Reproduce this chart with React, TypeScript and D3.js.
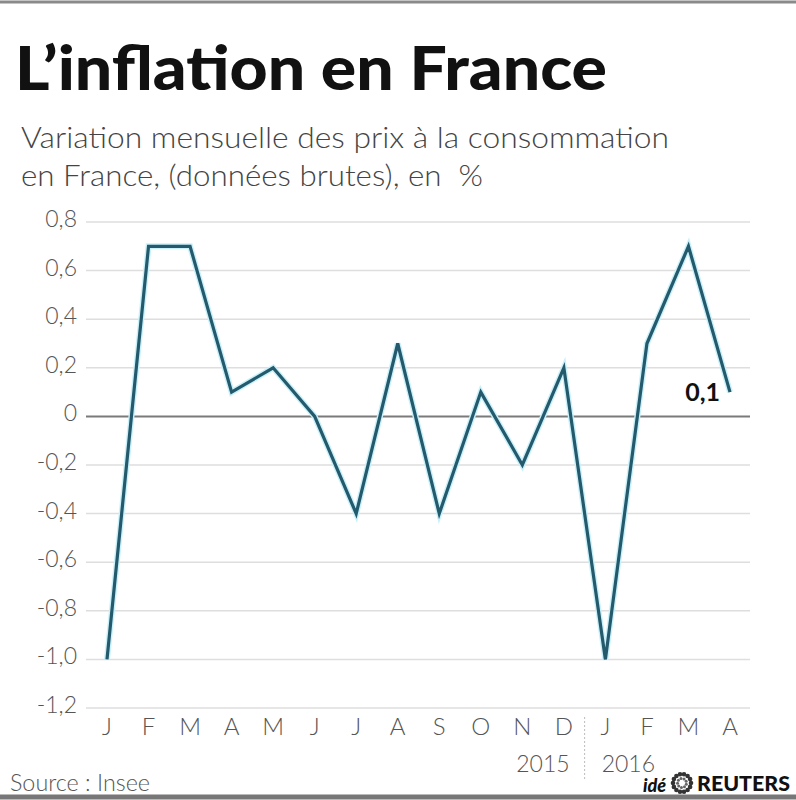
import { useEffect, useRef } from "react"
import * as d3 from "d3"

const months = ["J", "F", "M", "A", "M", "J", "J", "A", "S", "O", "N", "D", "J", "F", "M", "A"]
const values = [-1.0, 0.7, 0.7, 0.1, 0.2, 0.0, -0.4, 0.3, -0.4, 0.1, -0.2, 0.2, -1.0, 0.3, 0.7, 0.1]
const yTicks = [0.8, 0.6, 0.4, 0.2, 0, -0.2, -0.4, -0.6, -0.8, -1.0, -1.2]
const years = ["2015", "2016"]

const FONT = "Lato, 'Open Sans', sans-serif"

export default function App() {
  const svgRef = useRef(null)

  useEffect(() => {
    document.body.style.margin = "0"
    if (!svgRef.current) return
    const svg = d3.select(svgRef.current)
    svg.selectAll("*").remove()

    const width = 796
    const height = 800

    svg.append("rect").attr("width", width).attr("height", height).attr("fill", "#fff")

    // bordures
    svg.append("line").attr("x1", 0).attr("x2", width).attr("y1", 2).attr("y2", 2)
      .attr("stroke", "#8a8a8a").attr("stroke-width", 3)
    svg.append("line").attr("x1", 0).attr("x2", width).attr("y1", 797).attr("y2", 797)
      .attr("stroke", "#777").attr("stroke-width", 5)

    // titre
    svg.append("text").attr("x", 15).attr("y", 90)
      .attr("font-family", FONT).attr("font-weight", 900).attr("font-size", 60)
      .attr("fill", "#111").attr("textLength", 592).attr("lengthAdjust", "spacingAndGlyphs")
      .text("L\u2019inflation en France")

    const sub = [
      { t: "Variation mensuelle des prix à la consommation", y: 148, w: 648 },
      { t: "en France, (données brutes), en\u00a0 %", y: 186, w: 462 },
    ]
    sub.forEach((s) => {
      svg.append("text").attr("x", 21).attr("y", s.y)
        .attr("font-family", FONT).attr("font-weight", 300).attr("font-size", 30)
        .attr("fill", "#444").attr("textLength", s.w).attr("lengthAdjust", "spacingAndGlyphs")
        .text(s.t)
    })

    const y = d3.scaleLinear().domain([-1.2, 0.8]).range([708, 222])
    const x = d3.scalePoint().domain(d3.range(months.length).map(String)).range([107, 730])

    const g = svg.append("g")

    // grille
    g.selectAll(".grid")
      .data(yTicks)
      .enter()
      .append("line")
      .attr("x1", 86)
      .attr("x2", 750)
      .attr("y1", (d) => y(d))
      .attr("y2", (d) => y(d))
      .attr("stroke", (d) => (d === 0 ? "#7a7a7a" : "#dedede"))
      .attr("stroke-width", (d) => (d === 0 ? 2 : 1.5))

    // axe Y
    g.selectAll(".ylab")
      .data(yTicks)
      .enter()
      .append("text")
      .attr("x", 77)
      .attr("y", (d) => y(d) + 5)
      .attr("text-anchor", "end")
      .attr("font-family", FONT)
      .attr("font-weight", 300)
      .attr("font-size", 23)
      .attr("fill", "#555")
      .text((d) => (d === 0 ? "0" : d3.format(".1f")(d).replace(".", ",").replace("−", "-")))

    // axe X
    g.selectAll(".xlab")
      .data(months)
      .enter()
      .append("text")
      .attr("x", (_, i) => x(String(i)))
      .attr("y", 735)
      .attr("text-anchor", "middle")
      .attr("font-family", FONT)
      .attr("font-weight", 300)
      .attr("font-size", 24)
      .attr("fill", "#555")
      .text((d) => d)

    const sepX = (x("11") + x("12")) / 2
    svg.append("line").attr("x1", sepX).attr("x2", sepX).attr("y1", 717).attr("y2", 780)
      .attr("stroke", "#bbb").attr("stroke-width", 1).attr("stroke-dasharray", "2,2")

    svg.append("text").attr("x", sepX - 15).attr("y", 772).attr("text-anchor", "end")
      .attr("font-family", FONT).attr("font-weight", 300).attr("font-size", 23)
      .attr("fill", "#555").text(years[0])
    svg.append("text").attr("x", sepX + 17).attr("y", 772).attr("text-anchor", "start")
      .attr("font-family", FONT).attr("font-weight", 300).attr("font-size", 23)
      .attr("fill", "#555").text(years[1])

    // courbe
    const line = d3
      .line<number>()
      .x((_, i) => x(String(i)))
      .y((d) => y(d))
    g.append("path").datum(values).attr("d", line).attr("fill", "none")
      .attr("stroke", "#c8f1fb").attr("stroke-width", 6).attr("stroke-linejoin", "miter")
    g.append("path").datum(values).attr("d", line).attr("fill", "none")
      .attr("stroke", "#245a6c").attr("stroke-width", 3.2).attr("stroke-linejoin", "miter")

    // dernière valeur
    const last = values.length - 1
    svg.append("text").attr("x", x(String(last)) - 10).attr("y", y(values[last]) + 9)
      .attr("text-anchor", "end").attr("font-family", FONT).attr("font-weight", 700)
      .attr("font-size", 25).attr("fill", "#111")
      .text(String(values[last]).replace(".", ","))

    // source
    svg.append("text").attr("x", 10).attr("y", 791).attr("font-family", FONT)
      .attr("font-weight", 300).attr("font-size", 23)
      .attr("fill", "#555").attr("textLength", 140).attr("lengthAdjust", "spacingAndGlyphs")
      .text("Source : Insee")

    // logo
    svg.append("text").attr("x", 643).attr("y", 792).attr("font-family", FONT).attr("font-size", 18)
      .attr("font-style", "italic").attr("font-weight", 900).attr("fill", "#111").text("idé")
    const logo = svg.append("g").attr("transform", "translate(682,783)")
    d3.range(14).forEach((i) => {
      const a = (i / 14) * Math.PI * 2
      logo.append("circle").attr("cx", Math.cos(a) * 9).attr("cy", Math.sin(a) * 9).attr("r", 2.3).attr("fill", "#333")
    })
    d3.range(9).forEach((i) => {
      const a = (i / 9) * Math.PI * 2 + 0.3
      logo.append("circle").attr("cx", Math.cos(a) * 4.5).attr("cy", Math.sin(a) * 4.5).attr("r", 1.5).attr("fill", "#666")
    })
    svg.append("text").attr("x", 697).attr("y", 791).attr("font-family", FONT).attr("font-size", 21)
      .attr("font-weight", 900).attr("fill", "#111")
      .attr("textLength", 93).attr("lengthAdjust", "spacingAndGlyphs").text("REUTERS")

    svg.attr("width", width).attr("height", height).attr("viewBox", [0, 0, width, height])
  }, [])

  return (
    <div style={{ width: 796, height: 800 }}>
      <svg ref={svgRef} style={{ display: "block" }}></svg>
    </div>
  )
}
